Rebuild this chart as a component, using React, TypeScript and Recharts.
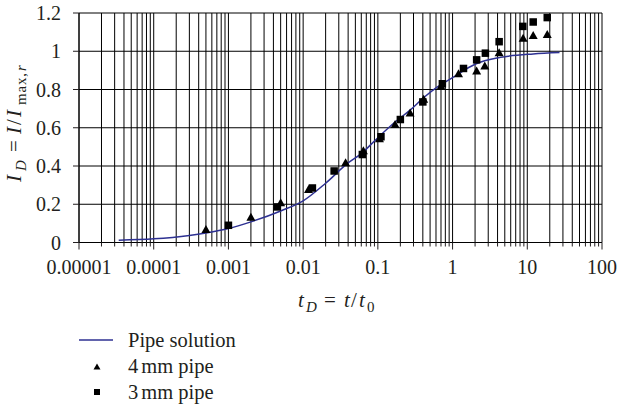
import React from "react";
import {
  ComposedChart,
  Line,
  Scatter,
  XAxis,
  YAxis,
  CartesianGrid,
  Legend,
  Label,
} from "recharts";

// Pipe solution (analytical curve)
const PIPE_T = [0.000034, 0.0001, 0.0003, 0.0005, 0.001, 0.002, 0.005, 0.01, 0.02, 0.04, 0.06, 0.1, 0.17, 0.27, 0.42, 0.62, 1.0, 2.0, 4.4, 12, 27];
const PIPE_I = [0.012, 0.019, 0.037, 0.05, 0.073, 0.108, 0.165, 0.218, 0.31, 0.416, 0.465, 0.548, 0.63, 0.692, 0.761, 0.813, 0.862, 0.932, 0.968, 0.986, 0.993];

// 4 mm pipe measurements
const MM4_T = [0.0005, 0.002, 0.005, 0.0118, 0.037, 0.064, 0.105, 0.17, 0.27, 0.41, 0.7, 1.2, 2.1, 2.7, 4.2, 8.8, 12, 18.5];
const MM4_I = [0.07, 0.135, 0.21, 0.28, 0.42, 0.483, 0.545, 0.62, 0.68, 0.752, 0.82, 0.885, 0.9, 0.925, 0.995, 1.07, 1.085, 1.09];

// 3 mm pipe measurements
const MM3_T = [0.001, 0.0045, 0.0133, 0.026, 0.062, 0.11, 0.2, 0.4, 0.73, 1.4, 2.1, 2.75, 4.2, 8.7, 12, 18.5];
const MM3_I = [0.09, 0.186, 0.285, 0.374, 0.46, 0.553, 0.643, 0.735, 0.83, 0.91, 0.955, 0.99, 1.05, 1.13, 1.153, 1.176];

const X_MAJOR = [0.00001, 0.0001, 0.001, 0.01, 0.1, 1, 10, 100];
const X_MAJOR_LABELS = ["0.00001", "0.0001", "0.001", "0.01", "0.1", "1", "10", "100"];
const Y_TICKS = [0, 0.2, 0.4, 0.6, 0.8, 1, 1.2];
const Y_TICK_LABELS = ["0", "0.2", "0.4", "0.6", "0.8", "1", "1.2"];

const LINE_COLOR = "#2e3192";
const INK = "#231f20";
const FONT = "Liberation Serif";

const toPoints = (xs: number[], ys: number[]) => xs.map((x, i) => ({ x, y: ys[i] }));
const pipeData = toPoints(PIPE_T, PIPE_I);
const mm4Data = toPoints(MM4_T, MM4_I);
const mm3Data = toPoints(MM3_T, MM3_I);

// every 1..9 x 10^k for the log grid
const xTicks: number[] = [];
X_MAJOR.slice(0, -1).forEach((m) => {
  for (let k = 1; k <= 9; k++) xTicks.push(m * k);
});
xTicks.push(X_MAJOR[X_MAJOR.length - 1]);

const majorIndex = (v: number) =>
  X_MAJOR.findIndex((m) => Math.abs(Math.log10(v) - Math.log10(m)) < 1e-6);

const XTick = (props: any) => {
  const { x, y, payload } = props;
  const idx = majorIndex(payload.value);
  const major = idx >= 0;
  return (
    <g>
      <line x1={x} x2={x} y1={y} y2={y + (major ? 7 : 4)} stroke={INK} strokeWidth={1} />
      {major && (
        <text x={x} y={y + 31} textAnchor="middle" fontSize={20} fontFamily={FONT} fill={INK}>
          {X_MAJOR_LABELS[idx]}
        </text>
      )}
    </g>
  );
};

const YTick = (props: any) => {
  const { x, y, payload } = props;
  const idx = Y_TICKS.findIndex((t) => Math.abs(t - payload.value) < 1e-9);
  return (
    <g>
      <line x1={x - 6} x2={x} y1={y} y2={y} stroke={INK} strokeWidth={1} />
      <text x={x - 18} y={y} dy="0.35em" textAnchor="end" fontSize={20} fontFamily={FONT} fill={INK}>
        {idx >= 0 ? Y_TICK_LABELS[idx] : payload.value}
      </text>
    </g>
  );
};

const Triangle = (props: any) => {
  const { cx, cy } = props;
  if (cx == null || cy == null) return null;
  return <polygon points={`${cx - 4.5},${cy + 4} ${cx + 4.5},${cy + 4} ${cx},${cy - 4}`} fill="#000" />;
};

const Square = (props: any) => {
  const { cx, cy } = props;
  if (cx == null || cy == null) return null;
  return <rect x={cx - 3.75} y={cy - 3.75} width={7.5} height={7.5} fill="#000" />;
};

const XTitle = () => (
  <text y={307} fontSize={21} fontFamily={FONT} fill={INK}>
    <tspan x={298} fontStyle="italic">t</tspan>
    <tspan x={306} dy={5} fontStyle="italic" fontSize={15}>D</tspan>
    <tspan x={324} dy={-5}>=</tspan>
    <tspan x={344} fontStyle="italic">t</tspan>
    <tspan x={351}>/</tspan>
    <tspan x={359} fontStyle="italic">t</tspan>
    <tspan x={367} dy={5} fontSize={15}>0</tspan>
  </text>
);

const YTitle = () => (
  <g transform="translate(21, 182) rotate(-90)">
    <text y={0} fontSize={21} fontFamily={FONT} fill={INK}>
      <tspan x={0} fontStyle="italic">I</tspan>
      <tspan x={11} dy={5} fontStyle="italic" fontSize={15}>D</tspan>
      <tspan x={30} dy={-5}>=</tspan>
      <tspan x={48} fontStyle="italic">I</tspan>
      <tspan x={57}>/</tspan>
      <tspan x={65} fontStyle="italic">I</tspan>
      <tspan x={77} dy={5} fontSize={15} letterSpacing={0.8}>max,</tspan>
      <tspan x={111} fontSize={15} fontStyle="italic">r</tspan>
    </text>
  </g>
);

const LegendBox = () => (
  <svg width={300} height={80} style={{ display: "block" }}>
    <line x1={79} x2={113} y1={15} y2={15} stroke={LINE_COLOR} strokeWidth={1.5} />
    <text x={128} y={15} dy="0.35em" fontSize={20.5} fontFamily={FONT} fill={INK}>Pipe solution</text>
    <polygon points="93.5,44.5 100.5,44.5 97,38.5" fill="#000" />
    <text x={128} y={41} dy="0.35em" fontSize={20.5} fontFamily={FONT} fill={INK}>
      4<tspan dx={3}>mm pipe</tspan>
    </text>
    <rect x={94} y={64} width={6} height={6} fill="#000" />
    <text x={128} y={67} dy="0.35em" fontSize={20.5} fontFamily={FONT} fill={INK}>
      3<tspan dx={3}>mm pipe</tspan>
    </text>
  </svg>
);

export default function App() {
  return (
    <div style={{ position: "absolute", left: 0, top: 0, width: 618, height: 409, background: "#fff" }}>
      <ComposedChart
        width={618}
        height={409}
        margin={{ top: 13, right: 16, bottom: 4, left: 0 }}
      >
        <CartesianGrid stroke="#000" strokeWidth={1} />
        <XAxis
          dataKey="x"
          type="number"
          scale="log"
          domain={[0.00001, 100]}
          ticks={xTicks}
          interval={0}
          allowDataOverflow
          height={82.5}
          tickSize={0}
          tickMargin={0}
          tickLine={false}
          axisLine={{ stroke: "#000" }}
          tick={<XTick />}
        >
          <Label content={<XTitle />} />
        </XAxis>
        <YAxis
          dataKey="y"
          type="number"
          domain={[0, 1.2]}
          ticks={Y_TICKS}
          interval={0}
          width={79}
          tickSize={0}
          tickMargin={0}
          tickLine={false}
          axisLine={{ stroke: "#000" }}
          tick={<YTick />}
        >
          <Label content={<YTitle />} />
        </YAxis>
        <Line
          data={pipeData}
          dataKey="y"
          type="monotone"
          stroke={LINE_COLOR}
          strokeWidth={1.5}
          dot={false}
          activeDot={false}
          isAnimationActive={false}
        />
        <Scatter data={mm4Data} dataKey="y" shape={<Triangle />} isAnimationActive={false} />
        <Scatter data={mm3Data} dataKey="y" shape={<Square />} isAnimationActive={false} />
        <Legend
          verticalAlign="bottom"
          align="left"
          layout="horizontal"
          wrapperStyle={{ left: 0, width: 300, height: 80 }}
          content={<LegendBox />}
        />
      </ComposedChart>
    </div>
  );
}
